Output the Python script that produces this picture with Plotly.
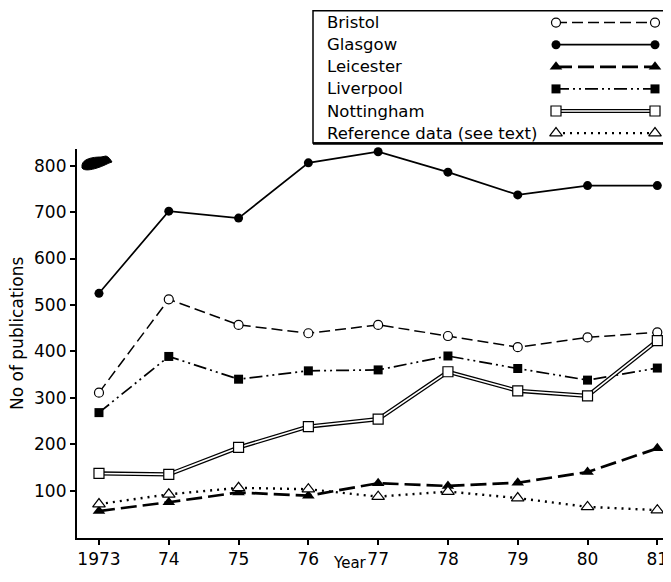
import plotly.graph_objects as go

# ---------------- data ----------------
years = [1973, 1974, 1975, 1976, 1977, 1978, 1979, 1980, 1981]
year_labels = ["1973", "74", "75", "76", "77", "78", "79", "80", "81"]
y_ticks = [100, 200, 300, 400, 500, 600, 700, 800]

bristol = [311, 512, 457, 439, 457, 433, 409, 430, 441]
glasgow = [525, 702, 687, 806, 830, 786, 737, 757, 757]
leicester = [56, 75, 96, 89, 116, 110, 117, 140, 191]
liverpool = [268, 389, 340, 358, 360, 390, 363, 338, 364]
nottingham = [137, 135, 193, 238, 254, 356, 315, 304, 423]
reference = [71, 92, 106, 103, 87, 98, 84, 65, 58]

series_names = ["Bristol", "Glasgow", "Leicester", "Liverpool", "Nottingham",
                "Reference data (see text)"]

# ---------------- layout geometry ----------------
# The page puts the figure 8px in from the window's top-left corner (body
# margin), so the figure is sized to fit and positions are in window pixels.
OFF = 8
WIN_W, WIN_H = 671, 582
W, H = WIN_W - OFF, WIN_H - 2 * OFF
PL, PT, PB = 77, 149.4, 537.5        # window pixels of plot-area edges
Y_MIN, Y_MAX = -1, 835
FONT = "DejaVu Sans"

def domx(x):
    return (x - OFF) / W

def domy(y):
    return 1 - (y - OFF) / H

styles = {
    "Bristol": dict(line=dict(color="black", width=1.5, dash="11px,5px"),
                    marker=dict(symbol="circle", size=9, color="white",
                                line=dict(color="black", width=1.2))),
    "Glasgow": dict(line=dict(color="black", width=1.7),
                    marker=dict(symbol="circle", size=9, color="black",
                                line=dict(color="black", width=0))),
    "Leicester": dict(line=dict(color="black", width=2.7, dash="16px,6px"),
                      marker=dict(symbol="triangle-up", size=11, color="black",
                                  line=dict(color="black", width=0))),
    "Liverpool": dict(line=dict(color="black", width=1.7,
                                dash="13px,4px,2px,4px,2px,4px"),
                      marker=dict(symbol="square", size=9, color="black",
                                  line=dict(color="black", width=0))),
    "Reference data (see text)": dict(
        line=dict(color="black", width=2.4, dash="2px,5px"),
        marker=dict(symbol="triangle-up", size=11, color="white",
                    line=dict(color="black", width=1.2))),
}

data_map = {
    "Bristol": bristol,
    "Glasgow": glasgow,
    "Leicester": leicester,
    "Liverpool": liverpool,
    "Nottingham": nottingham,
    "Reference data (see text)": reference,
}

fig = go.Figure()

# ---------------- main series ----------------
for name in series_names:
    vals = data_map[name]
    if name == "Nottingham":
        fig.add_trace(go.Scatter(x=years, y=vals, mode="lines",
                                 line=dict(color="black", width=4.2),
                                 cliponaxis=False, showlegend=False,
                                 hoverinfo="skip"))
        fig.add_trace(go.Scatter(x=years, y=vals, mode="lines+markers",
                                 line=dict(color="white", width=1.6),
                                 marker=dict(symbol="square", size=10,
                                             color="white",
                                             line=dict(color="black", width=1.2)),
                                 cliponaxis=False, showlegend=False, name=name))
    else:
        st = styles[name]
        fig.add_trace(go.Scatter(x=years, y=vals, mode="lines+markers",
                                 line=st["line"], marker=st["marker"],
                                 cliponaxis=False, showlegend=False, name=name))

# ---------------- custom legend (on an overlay window-pixel axis) ----------------
row_y = [22.6 + 22.1 * i for i in range(6)]
sx0, sx1 = 556, 655
for i, name in enumerate(series_names):
    yy = [row_y[i], row_y[i]]
    if name == "Nottingham":
        fig.add_trace(go.Scatter(x=[sx0, sx1], y=yy, xaxis="x2", yaxis="y2",
                                 mode="lines", line=dict(color="black", width=4.2),
                                 showlegend=False, hoverinfo="skip"))
        fig.add_trace(go.Scatter(x=[sx0, sx1], y=yy, xaxis="x2", yaxis="y2",
                                 mode="lines+markers",
                                 line=dict(color="white", width=1.6),
                                 marker=dict(symbol="square", size=10, color="white",
                                             line=dict(color="black", width=1.2)),
                                 showlegend=False, hoverinfo="skip"))
    else:
        st = styles[name]
        fig.add_trace(go.Scatter(x=[sx0, sx1], y=yy, xaxis="x2", yaxis="y2",
                                 mode="lines+markers", line=st["line"],
                                 marker=st["marker"], showlegend=False,
                                 hoverinfo="skip"))
    fig.add_annotation(x=325, y=row_y[i], xref="x2", yref="y2", text=name,
                       showarrow=False, xanchor="left", yanchor="middle",
                       font=dict(family=FONT, size=16.5, color="black"))

# legend box
fig.add_shape(type="rect", xref="x2", yref="y2", x0=313, x1=700, y0=10.7, y1=143,
              line=dict(color="black", width=1.5), fillcolor="rgba(0,0,0,0)")
fig.add_shape(type="line", xref="x2", yref="y2", x0=313, x1=700, y0=143.5, y1=143.5,
              line=dict(color="black", width=2.5))

# ink blob near the 800 tick
fig.add_shape(type="path", xref="x2", yref="y2",
              path="M 82,165 C 83,159 92,157 101,157 L 106,156 C 109,157 110,159 112,162 "
                   "C 108,163 104,166 97,168 C 91,170 84,171 82,168 Z",
              fillcolor="black", line=dict(color="black", width=1))

# axis titles
fig.add_annotation(x=17, y=334, xref="x2", yref="y2", text="No of publications",
                   textangle=-90, showarrow=False, xanchor="center", yanchor="middle",
                   font=dict(family=FONT, size=17, color="black"))
fig.add_annotation(x=350, y=552, xref="x2", yref="y2", text="Year",
                   showarrow=False, xanchor="center", yanchor="top",
                   font=dict(family=FONT, size=15, color="black"))

fig.update_layout(
    width=W, height=H,
    margin=dict(l=0, r=0, t=0, b=0),
    paper_bgcolor="white", plot_bgcolor="rgba(0,0,0,0)",
    showlegend=False,
    font=dict(family=FONT, size=17, color="black"),
    xaxis=dict(domain=[domx(PL), 1], range=[1972.685, 1981.196],
               tickvals=years, ticktext=year_labels, ticks="outside",
               ticklen=5, tickwidth=1.5, tickcolor="black",
               showline=True, linewidth=2.2, linecolor="black",
               showgrid=False, zeroline=False, anchor="y",
               tickfont=dict(family=FONT, size=17, color="black")),
    yaxis=dict(domain=[domy(PB), domy(PT)], range=[Y_MIN, Y_MAX],
               tickvals=y_ticks, ticks="outside", ticklen=5, tickwidth=1.5,
               tickcolor="black", showline=True, linewidth=2.2,
               linecolor="black", showgrid=False, zeroline=False, anchor="x",
               tickfont=dict(family=FONT, size=17, color="black")),
    xaxis2=dict(domain=[0, 1], range=[OFF, OFF + W], visible=False, anchor="y2",
                fixedrange=True),
    yaxis2=dict(domain=[0, 1], range=[OFF + H, OFF], visible=False, anchor="x2",
                fixedrange=True),
)

fig.write_html("out.html")
